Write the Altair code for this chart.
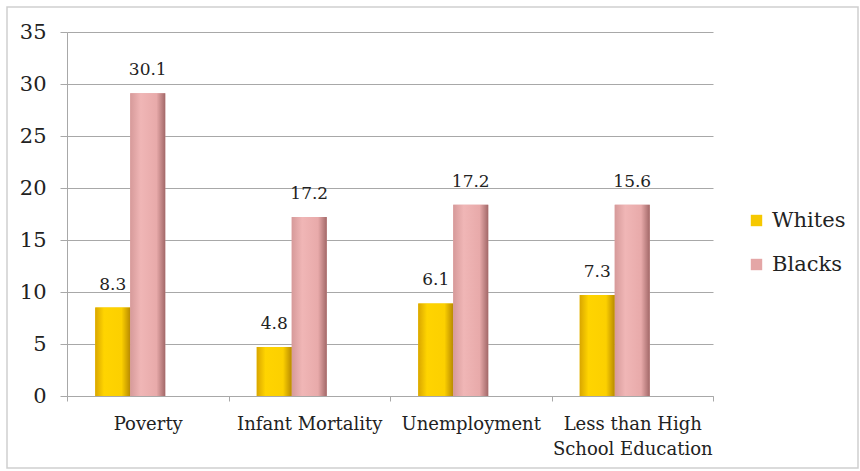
import altair as alt
import pandas as pd

categories = ["Poverty", "Infant Mortality", "Unemployment", "Less than High School Education"]
series = ["Whites", "Blacks"]
whites_bar = [8.5, 4.7, 8.9, 9.7]
blacks_bar = [29.1, 17.2, 18.4, 18.4]
whites_label = ["8.3", "4.8", "6.1", "7.3"]
blacks_label = ["30.1", "17.2", "17.2", "15.6"]
y_ticks = [0, 5, 10, 15, 20, 25, 30, 35]
colors = ["#F6C800", "#E4A6A6"]

rows = []
for i, c in enumerate(categories):
    rows.append({"category": c, "group": "Whites", "value": whites_bar[i], "label": whites_label[i]})
    rows.append({"category": c, "group": "Blacks", "value": blacks_bar[i], "label": blacks_label[i]})
df = pd.DataFrame(rows)

FONT = "DejaVu Serif"
W, H = 646, 364

x_enc = alt.X(
    "category:N", sort=categories,
    scale=alt.Scale(paddingInner=0, paddingOuter=0),
    axis=alt.Axis(
        title=None, labelAngle=0, tickBand="extent", tickSize=5,
        labelFontSize=18, labelPadding=14, labelLineHeight=25, labelFont=FONT,
        labelExpr="datum.label == 'Less than High School Education' ? ['Less than High', 'School Education'] : datum.label",
    ),
)
xo_enc = alt.XOffset(
    "group:N",
    scale=alt.Scale(domain=["Whites", "Blacks", "_slot"], paddingInner=0, paddingOuter=0.807),
)
y_enc = alt.Y(
    "value:Q",
    scale=alt.Scale(domain=[0, 35], nice=False),
    axis=alt.Axis(title=None, values=y_ticks, tickSize=7, labelFontSize=21, labelPadding=14,
                  grid=True, labelFont=FONT),
)

base = alt.Chart(df)

bars = base.mark_bar().encode(
    x=x_enc, xOffset=xo_enc, y=y_enc,
    color=alt.Color("group:N", scale=alt.Scale(domain=series, range=colors),
                    legend=alt.Legend(title=None, labelFont=FONT)),
)


def grad(stops):
    return alt.Gradient(
        gradient="linear", x1=0, x2=1, y1=0, y2=0,
        stops=[alt.GradientStop(offset=o, color=c) for o, c in stops],
    )


yellow = grad([(0, "#D9A600"), (0.25, "#FFD400"), (0.75, "#FCD000"), (1, "#B88A00")])
pink = grad([(0, "#D69A9A"), (0.3, "#F0B6B6"), (0.75, "#E8AAAA"), (1, "#A26868")])

w_layer = base.transform_filter("datum.group == 'Whites'").mark_bar(color=yellow).encode(
    x=x_enc, xOffset=xo_enc, y=y_enc)
b_layer = base.transform_filter("datum.group == 'Blacks'").mark_bar(color=pink).encode(
    x=x_enc, xOffset=xo_enc, y=y_enc)

labels = base.mark_text(baseline="bottom", dy=-14, fontSize=17, font=FONT, color="#222222").encode(
    x=x_enc, xOffset=xo_enc, y=y_enc, text="label:N")

border = alt.Chart(pd.DataFrame({"a": [0]})).mark_rect(
    fill="transparent", stroke="#CFCFCF", strokeWidth=1.5
).encode(
    x=alt.value(-60), x2=alt.value(791), y=alt.value(-25), y2=alt.value(436)
)

chart = alt.layer(border, bars, w_layer, b_layer, labels).properties(
    width=W, height=H,
    autosize=alt.AutoSizeParams(type="none"),
    padding={"left": 67, "top": 32, "right": 147, "bottom": 75},
    background="white",
).configure_view(stroke=None).configure_axis(
    labelColor="#222222", domainColor="#A8A8A8", tickColor="#A8A8A8",
    gridColor="#A8A8A8", gridWidth=1,
).configure_legend(
    orient="none", legendX=679, legendY=178, labelFontSize=21,
    labelColor="#222222", symbolType="square", symbolSize=130, symbolStrokeWidth=0,
    rowPadding=22, labelOffset=5,
)

chart.save("out.html", embed_options={"renderer": "svg", "actions": False})
